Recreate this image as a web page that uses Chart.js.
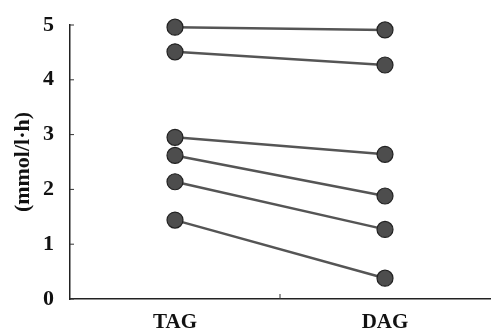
<!DOCTYPE html>
<html lang="en">
<head>
    <meta charset="UTF-8">
    <title>TAG vs DAG</title>
    <script src="https://cdn.jsdelivr.net/npm/chart.js"></script>
    <style>
        body {
            margin: 0;
            background: white;
        }
        canvas {
            display: block;
        }
    </style>
</head>
<body>
    <canvas id="pairChart" width="492" height="329"></canvas>

    <script>
        // conditions on the x axis
        const conditions = ["TAG", "DAG"];
        // one subject per series: [TAG, DAG]
        const subject1 = [4.96, 4.91];
        const subject2 = [4.51, 4.27];
        const subject3 = [2.95, 2.64];
        const subject4 = [2.62, 1.88];
        const subject5 = [2.14, 1.27];
        const subject6 = [1.44, 0.38];
        const yTicks = [0, 1, 2, 3, 4, 5];

        const subjects = [subject1, subject2, subject3, subject4, subject5, subject6];
        const serif = "'Liberation Serif', 'Times New Roman', serif";
        // conditions sit at 1 and 3 on a 0..4 axis
        const xPos = i => 2 * i + 1;

        // small ticks drawn inside the plot, like the original figure
        const innerTicks = {
            id: "innerTicks",
            afterDraw(chart) {
                const ctx = chart.ctx;
                const x = chart.scales.x, y = chart.scales.y;
                ctx.save();
                ctx.strokeStyle = "#333";
                ctx.lineWidth = 1;
                yTicks.forEach(v => {
                    const py = y.getPixelForValue(v);
                    ctx.beginPath();
                    ctx.moveTo(x.left, py);
                    ctx.lineTo(x.left + 4, py);
                    ctx.stroke();
                });
                const mid = x.getPixelForValue((x.min + x.max) / 2);
                ctx.beginPath();
                ctx.moveTo(mid, y.bottom);
                ctx.lineTo(mid, y.bottom - 5);
                ctx.stroke();
                ctx.restore();
            }
        };

        new Chart(document.getElementById("pairChart"), {
            type: "line",
            data: {
                datasets: subjects.map(s => ({
                    data: s.map((v, i) => ({ x: xPos(i), y: v })),
                    borderColor: "#555",
                    borderWidth: 2.5,
                    pointRadius: 8,
                    pointBackgroundColor: "#4d4d4d",
                    pointBorderColor: "#222",
                    pointBorderWidth: 1.2,
                    fill: false,
                    tension: 0,
                    clip: false
                }))
            },
            options: {
                responsive: false,
                animation: false,
                layout: { autoPadding: false, padding: { top: 25, right: 2, left: 0, bottom: 0 } },
                plugins: {
                    legend: { display: false },
                    tooltip: { enabled: false }
                },
                scales: {
                    x: {
                        type: "linear",
                        min: 0,
                        max: 2 * conditions.length,
                        afterBuildTicks: s => { s.ticks = conditions.map((c, i) => ({ value: xPos(i) })); },
                        afterFit: s => { s.height = 30; s.paddingLeft = 0; s.paddingRight = 0; },
                        grid: { display: false },
                        border: { display: true, color: "#222", width: 1.5 },
                        ticks: {
                            padding: 3,
                            color: "#111",
                            font: { family: serif, size: 21, weight: "bold" },
                            callback: v => conditions[(v - 1) / 2]
                        }
                    },
                    y: {
                        min: 0,
                        max: 5,
                        afterBuildTicks: s => { s.ticks = yTicks.map(v => ({ value: v })); },
                        afterFit: s => { s.width = 70; },
                        grid: { display: false },
                        border: { display: true, color: "#222", width: 1.5 },
                        ticks: {
                            padding: 8,
                            color: "#111",
                            font: { family: serif, size: 22, weight: "bold" }
                        },
                        title: {
                            display: true,
                            text: "(mmol/l\u00b7h)",
                            color: "#111",
                            padding: { top: 10, bottom: 0 },
                            font: { family: serif, size: 22, weight: "bold" }
                        }
                    }
                }
            },
            plugins: [innerTicks]
        });
    </script>
</body>
</html>
